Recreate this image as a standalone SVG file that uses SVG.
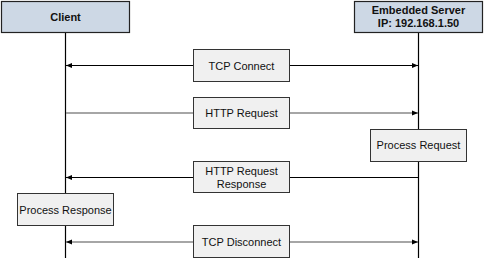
<svg xmlns="http://www.w3.org/2000/svg" width="486" height="262" viewBox="0 0 486 262">
<style>
.hdr{fill:#cdd8e5;stroke:#222;stroke-width:1.2}
.box{fill:#f0f0f0;stroke:#333;stroke-width:1}
.life{stroke:#000;stroke-width:1.2;fill:none}
.ln{stroke:#000;stroke-width:1;fill:none}
.lg{stroke:#888;stroke-width:1.3;fill:none}
text{font-family:"Liberation Sans",Arial,sans-serif;font-size:11px;fill:#111;text-anchor:middle}
.b{font-weight:bold}
</style>
<defs>
<marker id="ah" viewBox="0 0 6 6" refX="6" refY="3" markerWidth="6" markerHeight="6" orient="auto-start-reverse" markerUnits="userSpaceOnUse">
<path d="M0,0.5 L6,3 L0,5.5 Z" fill="#000"/>
</marker>
</defs>
<g id="lifelines">
<line class="life" x1="65.5" y1="33" x2="65.5" y2="258"/>
<line class="life" x1="418.5" y1="33" x2="418.5" y2="258"/>
</g>
<g id="connectors">
<line class="ln" x1="66" y1="65.5" x2="418" y2="65.5" marker-start="url(#ah)" marker-end="url(#ah)"/>
<line class="lg" x1="66" y1="113" x2="418" y2="113" marker-end="url(#ah)"/>
<line class="ln" x1="66" y1="177.5" x2="418" y2="177.5" marker-start="url(#ah)"/>
<line class="lg" x1="66" y1="242" x2="418" y2="242" marker-start="url(#ah)" marker-end="url(#ah)"/>
</g>
<g id="client">
<rect class="hdr" x="1.5" y="1.5" width="128" height="31"/>
<text class="b" x="65.5" y="21">Client</text>
</g>
<g id="server">
<rect class="hdr" x="354.5" y="1.5" width="128" height="31"/>
<text class="b" x="418.5" y="14">Embedded Server</text>
<text class="b" x="418.5" y="27">IP: 192.168.1.50</text>
</g>
<g id="tcp-connect">
<rect class="box" x="193.5" y="49.5" width="96" height="32"/>
<text x="241.5" y="69.5">TCP Connect</text>
</g>
<g id="http-request">
<rect class="box" x="193.5" y="97.5" width="96" height="31"/>
<text x="241.5" y="117">HTTP Request</text>
</g>
<g id="process-request">
<rect class="box" x="370.5" y="129.5" width="96" height="32"/>
<text x="418.5" y="149">Process Request</text>
</g>
<g id="http-response">
<rect class="box" x="193.5" y="161.5" width="96" height="31"/>
<text x="241.5" y="175">HTTP Request</text>
<text x="241.5" y="187.5">Response</text>
</g>
<g id="process-response">
<rect class="box" x="17.5" y="193.5" width="96" height="32"/>
<text x="65.5" y="213.5">Process Response</text>
</g>
<g id="tcp-disconnect">
<rect class="box" x="193.5" y="225.5" width="96" height="32"/>
<text x="241.5" y="245.5">TCP Disconnect</text>
</g>
</svg>
